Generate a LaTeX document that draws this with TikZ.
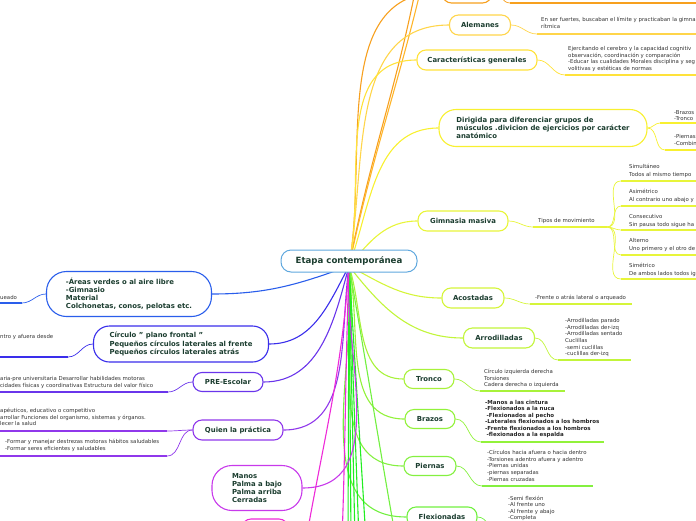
\documentclass[tikz,border=0pt]{standalone}
\usepackage{fontspec}
\setmainfont{DejaVu Sans}
\usepackage{xcolor}
\usepackage{tikz}
\definecolor{ink}{HTML}{1B3D2F}
\definecolor{txt}{HTML}{333333}
\definecolor{cCtr}{HTML}{60A8DE}
\definecolor{cOrg}{HTML}{F7A01E}
\definecolor{cOrb}{HTML}{FFB52A}
\definecolor{cAle}{HTML}{FFD54A}
\definecolor{cCar}{HTML}{FFE23A}
\definecolor{cDir}{HTML}{F8F030}
\definecolor{cGim}{HTML}{E8F53A}
\definecolor{cAco}{HTML}{D5F53A}
\definecolor{cArr}{HTML}{C2F53A}
\definecolor{cTro}{HTML}{A8F23A}
\definecolor{cBra}{HTML}{92F23A}
\definecolor{cPie}{HTML}{84F040}
\definecolor{cFle}{HTML}{72F040}
\definecolor{cGrn}{HTML}{22EE22}
\definecolor{cAre}{HTML}{2A5EEB}
\definecolor{cCir}{HTML}{3A2EEB}
\definecolor{cPre}{HTML}{6A35EB}
\definecolor{cQui}{HTML}{9038EB}
\definecolor{cMan}{HTML}{C83AEB}
\definecolor{cPnk}{HTML}{EE2AD8}
\tikzstyle{center node}=[fill=white, draw=cCtr, rounded corners=10pt, line width=1pt, minimum width=136pt, minimum height=22pt, font=\bfseries\fontsize{8.6}{10}\selectfont, text=ink]
\tikzstyle{topic}=[fill=white, rounded corners=9pt, line width=1.1pt, minimum height=20pt, inner sep=2pt, font=\bfseries\fontsize{6.9}{8.3}\selectfont, text=ink, align=left]
\tikzstyle{note}=[anchor=north west, inner sep=0pt, font=\fontsize{5.4}{6.7}\selectfont, text=txt, align=left]
\tikzstyle{bold note}=[note, font=\bfseries\fontsize{5.5}{6.5}\selectfont, text=black!85]
\tikzstyle{branch}=[-, line width=1.1pt]
\tikzstyle{twig}=[-, line width=0.7pt]
\tikzstyle{rule}=[-, line width=1.8pt]
\pgfdeclarelayer{nodelayer}
\pgfdeclarelayer{edgelayer}
\pgfsetlayers{edgelayer,nodelayer,main}

\begin{document}
\begin{tikzpicture}[x=1pt, y=-1pt]
	\useasboundingbox (0,0) rectangle (696,520);
	\begin{pgfonlayer}{nodelayer}
		\node [style=center node] (ctr) at (349, 261) {Etapa contemporánea};
		% right side
		\node [style=topic, draw=cOrg, minimum width=49pt, minimum height=22pt] (top) at (467, -8) {};
		\node [style=topic, draw=cAle, minimum width=61pt] (ale) at (480, 25) {Alemanes};
		\node [style=topic, draw=cCar, minimum width=120pt] (car) at (477, 60) {Características generales};
		\node [style=topic, draw=cDir, minimum width=208pt, minimum height=37pt, rounded corners=17pt] (dir) at (543, 128) {Dirigida para diferenciar grupos de\\músculos .divicion de ejercicios por carácter\\anatómico};
		\node [style=topic, draw=cGim, minimum width=90pt] (gim) at (463, 221) {Gimnasia masiva};
		\node [style=topic, draw=cAco, minimum width=62pt] (aco) at (473, 298) {Acostadas};
		\node [style=topic, draw=cArr, minimum width=71pt] (arr) at (499, 338) {Arrodilladas};
		\node [style=topic, draw=cTro, minimum width=50pt, minimum height=19pt] (tro) at (429, 379) {Tronco};
		\node [style=topic, draw=cBra, minimum width=50pt, minimum height=19pt] (bra) at (430, 419) {Brazos};
		\node [style=topic, draw=cPie, minimum width=52pt, minimum height=19pt] (pie) at (430, 466) {Piernas};
		\node [style=topic, draw=cFle, minimum width=70pt] (fle) at (442, 517) {Flexionadas};
		% left side
		\node [style=topic, draw=cAre, minimum width=165pt, minimum height=45pt, rounded corners=20pt] (are) at (129, 294) {-Áreas verdes o al aire libre\\-Gimnasio\\Material\\Colchonetas, conos, pelotas etc.};
		\node [style=topic, draw=cCir, minimum width=175pt, minimum height=36pt, rounded corners=16pt] (cir) at (181, 344) {Círculo " plano frontal "\\Pequeños círculos laterales al frente\\Pequeños círculos laterales atrás};
		\node [style=topic, draw=cPre, minimum width=70pt, minimum height=19pt] (pre) at (228, 382) {PRE-Escolar};
		\node [style=topic, draw=cQui, minimum width=90pt] (qui) at (238, 430) {Quien la práctica};
		\node [style=topic, draw=cMan, minimum width=90pt, minimum height=45pt, rounded corners=20pt] (man) at (257, 488) {Manos\\Palma a bajo\\Palma arriba\\Cerradas};
		\node [style=topic, draw=cPnk, minimum width=46pt, minimum height=36pt] (pnk) at (265, 537) {};
		% notes
		\node [style=note] (nAle) at (541, 17) {En ser fuertes, buscaban el límite y practicaban la gimna\\rítmica};
		\node [style=note] (nCar) at (568, 46) {Ejercitando el cerebro y la capacidad cognitiv\\observación, coordinación y comparación\\-Educar las cualidades Morales disciplina y seg\\volitivas y estéticas de normas};
		\node [style=note] (nDa) at (674, 110) {-Brazos\\-Tronco};
		\node [style=note] (nDb) at (674, 134) {-Piernas\\-Combin};
		\node [style=note] (nTip) at (538, 218) {Tipos de movimiento};
		\node [style=note, font=\fontsize{5.4}{7.8}\selectfont] (nS1) at (629, 164) {Simultáneo\\Todos al mismo tiempo};
		\node [style=note, font=\fontsize{5.4}{7.8}\selectfont] (nS2) at (629, 189) {Asimétrico\\Al contrario uno abajo y};
		\node [style=note, font=\fontsize{5.4}{7.8}\selectfont] (nS3) at (629, 214) {Consecutivo\\Sin pausa todo sigue ha};
		\node [style=note, font=\fontsize{5.4}{7.8}\selectfont] (nS4) at (629, 238) {Alterno\\Uno primero y el otro de};
		\node [style=note, font=\fontsize{5.4}{7.8}\selectfont] (nS5) at (629, 263) {Simétrico\\De ambos lados todos ig};
		\node [style=note] (nAco) at (535, 295) {-Frente o atrás lateral o arqueado};
		\node [style=note] (nArr) at (565, 318) {-Arrodilladas parado\\-Arrodilladas der-izq\\-Arrodilladas sentado\\Cuclillas\\-semi cuclillas\\-cuclillas der-izq};
		\node [style=note] (nTro) at (484, 369) {Círculo izquierda derecha\\Torsiones\\Cadera derecha o izquierda};
		\node [style=bold note] (nBra) at (485, 400) {-Manos a las cintura\\-Flexionados a la nuca\\\hspace{1.5pt}-Flexionados al pecho\\-Laterales flexionados a los hombros\\-Frente flexionados a los hombros\\\hspace{1.5pt}-flexionados a la espalda};
		\node [style=note] (nPie) at (487, 450) {-Círculos hacia afuera o hacia dentro\\-Torsiones adentro afuera y adentro\\-Piernas unidas\\-piernas separadas\\-Piernas cruzadas};
		\node [style=note, font=\fontsize{5.4}{6.4}\selectfont] (nFle) at (508, 496) {-Semi flexión\\-Al frente uno\\-Al frente y abajo\\-Completa};
		\node [style=note] (nAre) at (0, 295) {ueado};
		\node [style=note] (nCir) at (0, 334) {ntro y afuera desde};
		\node [style=note] (nPre) at (0, 376) {aria-pre universitaria Desarrollar habilidades motoras\\cidades físicas y coordinativas Estructura del valor físico};
		\node [style=note] (nQa) at (0, 408) {apéuticos, educativo o competitivo\\arrollar Funciones del organismo, sistemas y órganos.\\lecer la salud};
		\node [style=note] (nQb) at (5, 439) {-Formar y manejar destrezas motoras hábitos saludables\\-Formar seres eficientes y saludables};
	\end{pgfonlayer}
	\begin{pgfonlayer}{edgelayer}
		\coordinate (hub) at (349, 266);
		\coordinate (offA) at (421, -40);
		\coordinate (offB) at (432, -60);
		\coordinate (gA) at (348, 540);
		\coordinate (gB) at (351, 540);
		\coordinate (gC) at (355, 540);
		\coordinate (gD) at (359, 540);
		\coordinate (gE) at (366, 540);
		\coordinate (gF) at (396, 540);
		\coordinate (pkA) at (306, 540);
		\coordinate (pkB) at (342, 540);
		% upper branches
		\draw [style=branch, draw=cOrg] (hub) to[out=79, in=-100] (offA);
		\draw [style=branch, draw=cOrb] (hub) to[out=78, in=-102] (offB);
		\draw [style=branch, draw=cOrg] (hub) to[out=80, in=180] (top.west);
		\draw [style=branch, draw=cAle] (hub) to[out=80, in=180] (ale.west);
		\draw [style=branch, draw=cCar] (hub) to[out=78, in=180] (car.west);
		\draw [style=branch, draw=cDir] (hub) to[out=70, in=180] (dir.west);
		\draw [style=branch, draw=cGim] (hub) to[out=50, in=180] (gim.west);
		% lower right branches
		\draw [style=branch, draw=cAco] (hub) to[out=-28, in=180] (aco.west);
		\draw [style=branch, draw=cArr] (hub) to[out=-52, in=180] (arr.west);
		\draw [style=branch, draw=cTro] (hub) to[out=-72, in=180] (tro.west);
		\draw [style=branch, draw=cBra] (hub) to[out=-78, in=180] (bra.west);
		\draw [style=branch, draw=cPie] (hub) to[out=-82, in=180] (pie.west);
		\draw [style=branch, draw=cFle] (hub) to[out=-85, in=180] (fle.west);
		\draw [style=branch, draw=cGrn] (hub) -- (gA);
		\draw [style=branch, draw=cGrn] (hub) -- (gB);
		\draw [style=branch, draw=cGrn] (hub) -- (gC);
		\draw [style=branch, draw=cGrn] (hub) -- (gD);
		\draw [style=branch, draw=cGrn] (hub) -- (gE);
		\draw [style=branch, draw=cFle] (hub) to[out=-80, in=100] (gF);
		% left branches
		\draw [style=branch, draw=cAre] (hub) to[out=200, in=0] (are.east);
		\draw [style=branch, draw=cCir] (hub) to[out=242, in=0] (cir.east);
		\draw [style=branch, draw=cPre] (hub) to[out=255, in=0] (pre.east);
		\draw [style=branch, draw=cQui] (hub) to[out=262, in=0] (qui.east);
		\draw [style=branch, draw=cMan] (hub) to[out=266, in=0] (man.east);
		\draw [style=branch, draw=cPnk] (hub) to[out=266, in=80] (pkA);
		\draw [style=branch, draw=cPnk] (hub) to[out=268, in=88] (pkB);
		% note rules
		\coordinate (uTop) at (510, 3);   \coordinate (uTopE) at (700, 3);
		\coordinate (uAle) at (537, 34);  \coordinate (uAleE) at (700, 34);
		\coordinate (uCar) at (565, 75);  \coordinate (uCarE) at (700, 75);
		\coordinate (uDa) at (660, 123);  \coordinate (uDaE) at (700, 123);
		\coordinate (uDb) at (665, 150);  \coordinate (uDbE) at (700, 150);
		\coordinate (uTip) at (533, 227); \coordinate (uTipE) at (607, 227);
		\coordinate (uS1) at (621, 181);  \coordinate (uS1E) at (700, 181);
		\coordinate (uS2) at (621, 206);  \coordinate (uS2E) at (700, 206);
		\coordinate (uS3) at (621, 230);  \coordinate (uS3E) at (700, 230);
		\coordinate (uS4) at (621, 255);  \coordinate (uS4E) at (700, 255);
		\coordinate (uS5) at (621, 279);  \coordinate (uS5E) at (700, 279);
		\coordinate (uAco) at (530, 304); \coordinate (uAcoE) at (632, 304);
		\coordinate (uArr) at (558, 360); \coordinate (uArrE) at (631, 360);
		\coordinate (uTro) at (480, 391); \coordinate (uTroE) at (565, 391);
		\coordinate (uBra) at (481, 442); \coordinate (uBraE) at (604, 442);
		\coordinate (uPie) at (482, 486); \coordinate (uPieE) at (593, 486);
		\coordinate (uFle) at (500, 532);
		\coordinate (uAre) at (22, 303);  \coordinate (uAreE) at (-5, 303);
		\coordinate (uCir) at (68, 357);  \coordinate (uCirE) at (-5, 357);
		\coordinate (uPre) at (168, 392); \coordinate (uPreE) at (-5, 392);
		\coordinate (uQa) at (167, 431);  \coordinate (uQaE) at (-5, 431);
		\coordinate (uQb) at (167, 456);  \coordinate (uQbE) at (-5, 456);
		\draw [style=twig, draw=cOrg] (top.east) to[out=0, in=180] (uTop);
		\draw [style=rule, draw=cOrg] (uTop) -- (uTopE);
		\draw [style=twig, draw=cAle] (ale.east) to[out=0, in=180] (uAle);
		\draw [style=rule, draw=cAle] (uAle) -- (uAleE);
		\draw [style=twig, draw=cCar] (car.east) to[out=0, in=180] (uCar);
		\draw [style=rule, draw=cCar] (uCar) -- (uCarE);
		\draw [style=twig, draw=cDir] (dir.east) to[out=0, in=180] (uDa);
		\draw [style=rule, draw=cDir] (uDa) -- (uDaE);
		\draw [style=twig, draw=cDir] (dir.east) to[out=0, in=180] (uDb);
		\draw [style=rule, draw=cDir] (uDb) -- (uDbE);
		\draw [style=twig, draw=cGim] (gim.east) to[out=0, in=180] (uTip);
		\draw [style=rule, draw=cGim] (uTip) -- (uTipE);
		\foreach \s in {uS1, uS2, uS3, uS4, uS5} {
			\draw [style=twig, draw=cGim] (uTipE) to[out=0, in=180] (\s);
			\draw [style=rule, draw=cGim] (\s) -- (\s E);
		}
		\draw [style=twig, draw=cAco] (aco.east) to[out=0, in=180] (uAco);
		\draw [style=rule, draw=cAco] (uAco) -- (uAcoE);
		\draw [style=twig, draw=cArr] (arr.east) to[out=0, in=180] (uArr);
		\draw [style=rule, draw=cArr] (uArr) -- (uArrE);
		\draw [style=twig, draw=cTro] (tro.east) to[out=0, in=180] (uTro);
		\draw [style=rule, draw=cTro] (uTro) -- (uTroE);
		\draw [style=twig, draw=cBra] (bra.east) to[out=0, in=180] (uBra);
		\draw [style=rule, draw=cBra] (uBra) -- (uBraE);
		\draw [style=twig, draw=cPie] (pie.east) to[out=0, in=180] (uPie);
		\draw [style=rule, draw=cPie] (uPie) -- (uPieE);
		\draw [style=twig, draw=cFle] (fle.east) to[out=0, in=180] (uFle);
		\draw [style=twig, draw=cAre] (are.west) to[out=180, in=0] (uAre);
		\draw [style=rule, draw=cAre] (uAre) -- (uAreE);
		\draw [style=twig, draw=cCir] (cir.west) to[out=180, in=0] (uCir);
		\draw [style=rule, draw=cCir] (uCir) -- (uCirE);
		\draw [style=twig, draw=cPre] (pre.west) to[out=180, in=0] (uPre);
		\draw [style=rule, draw=cPre] (uPre) -- (uPreE);
		\draw [style=twig, draw=cQui] (qui.west) to[out=180, in=0] (uQa);
		\draw [style=rule, draw=cQui] (uQa) -- (uQaE);
		\draw [style=twig, draw=cQui] (qui.west) to[out=180, in=0] (uQb);
		\draw [style=rule, draw=cQui] (uQb) -- (uQbE);
	\end{pgfonlayer}
\end{tikzpicture}
\end{document}
